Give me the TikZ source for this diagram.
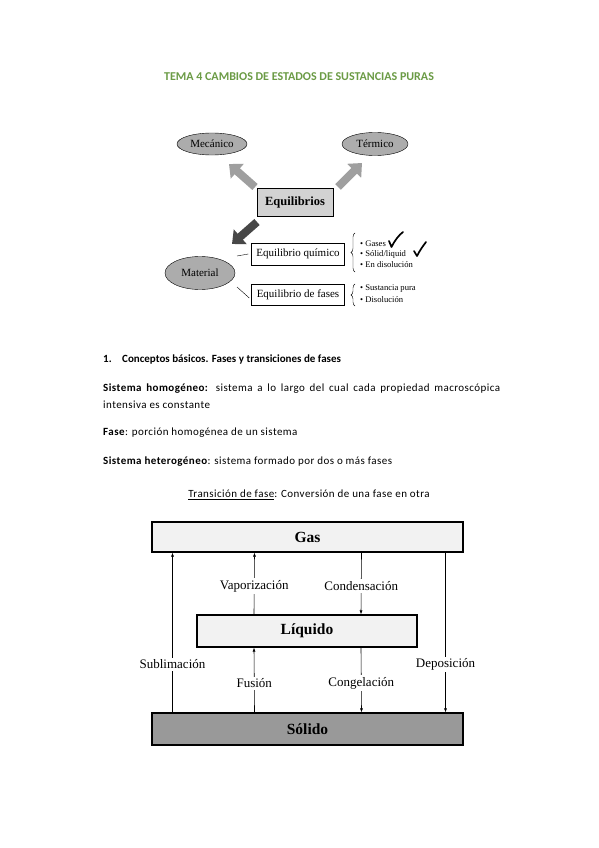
\documentclass[tikz,border=0pt]{standalone}
\usepackage{fontspec}
\setmainfont{Liberation Serif}
\newfontfamily\bodyfont{Carlito}
\newfontfamily\widebodyfont{Carlito}[LetterSpace=4]
\usetikzlibrary{arrows.meta}
\usetikzlibrary{positioning,shapes.geometric,decorations.pathreplacing}

\definecolor{titlegreen}{RGB}{107,155,69}

\begin{document}
\begin{tikzpicture}[x = 1pt, y = -1pt,
  oval/.style = {ellipse, draw, fill=gray!65, inner sep=0pt, font=\fontsize{11}{13}\selectfont},
  smallbox/.style = {draw, rectangle, minimum width=93pt, minimum height=22pt, inner sep=0pt, font=\fontsize{11}{13}\selectfont},
  phasebox/.style = {draw, line width=1.1pt, rectangle, inner sep=0pt, font=\fontsize{15.5}{18}\selectfont\bfseries},
  fatarrow/.style = {line width=8pt, -{Triangle[width=19pt,length=11pt]}},
  trans/.style = {line width=0.6pt, -{Latex[length=4pt,width=3pt]}},
  translabel/.style = {fill=white, inner sep=2pt, font=\fontsize{13}{15}\selectfont},
  item/.style = {anchor=west, inner sep=0pt, font=\fontsize{8.6}{10}\selectfont},
  tick/.style = {line width=1.7pt, line cap=round, line join=round},
  bodytext/.style = {inner sep=0pt, font=\widebodyfont\fontsize{11}{17}\selectfont}]

  \useasboundingbox[fill=white] (0,0) rectangle (599,848);

  % title
  \node[inner sep=0pt, text=titlegreen, font=\bodyfont\fontsize{12}{14}\selectfont\bfseries] (title) at (299,77)
    {TEMA 4 CAMBIOS DE ESTADOS DE SUSTANCIAS PURAS};

  % equilibrium diagram
  \node[oval, minimum width=70pt, minimum height=22pt] (meca) at (212,144) {Mecánico};
  \node[oval, minimum width=66pt, minimum height=23pt] (term) at (375,144) {Térmico};
  \node[draw, fill=gray!35, minimum width=76pt, minimum height=28pt, inner sep=0pt,
    font=\fontsize{12.5}{14}\selectfont\bfseries] (equil) at (295,202) {Equilibrios};
  \node[oval, minimum width=70pt, minimum height=33pt] (material) at (200,273) {Material};
  \node[smallbox] (quim) at (298,254) {Equilibrio químico};
  \node[smallbox, minimum height=21pt] (fases) at (298,295) {Equilibrio de fases};

  % block arrows
  \coordinate (mecaend) at (229,164);
  \coordinate (termend) at (362,163);
  \coordinate (matend) at (232,244);
  \draw[fatarrow, gray!75] (255,187) -- (mecaend);
  \draw[fatarrow, gray!75] (338,187) -- (termend);
  \draw[fatarrow, black!72] (257,222) -- (matend);

  % material links
  \coordinate (mq) at (237,256);
  \coordinate (mf) at (237,287);
  \draw (mq) -- ([xshift=-3pt]quim.west);
  \draw (mf) -- ([xshift=-2pt,yshift=-3pt]fases.west);

  % braces and items
  \draw[decorate, decoration={brace, amplitude=4pt}] (355,272) -- (355,233);
  \draw[decorate, decoration={brace, amplitude=4pt}] (355,306) -- (355,284);
  \node[item] (gases) at (360,244) {• Gases};
  \node[item] (solliq) at (360,254.5) {• Sólid/liquid};
  \node[item] (disol) at (360,265) {• En disolución};
  \node[item] (pura) at (360,289) {• Sustancia pura};
  \node[item] (disol2) at (360,299.5) {• Disolución};
  \draw[tick] (389,241) .. controls (390,244) .. (391.5,247) .. controls (395,240) and (399,235) .. (403,232);
  \draw[tick] (414,251) .. controls (415.5,253.5) .. (417,256) .. controls (420,250) and (423,246) .. (426,242);

  % text
  \node[inner sep=0pt, anchor=west, font=\bodyfont\fontsize{11}{17}\selectfont\bfseries] (heading) at (103,360)
    {\makebox[19pt][l]{1.}Conceptos básicos. Fases y transiciones de fases};
  \node[bodytext, anchor=north west, text width=397pt, align=justify] (homog) at (103,384)
    {\textbf{Sistema homogéneo:} sistema a lo largo del cual cada propiedad macroscópica\linebreak
     intensiva es constante};
  \node[bodytext, anchor=west] (fase) at (103,433) {\textbf{Fase}: porción homogénea de un sistema};
  \node[bodytext, anchor=west] (heterog) at (103,462)
    {\textbf{Sistema heterogéneo}: sistema formado por dos o más fases};
  \node[bodytext] (transtitle) at (309,495)
    {\underline{Transición de fase}: Conversión de una fase en otra};

  % phase diagram
  \node[phasebox, fill=gray!10, minimum width=311pt, minimum height=30pt] (gas) at (307.5,537) {Gas};
  \node[phasebox, fill=gray!10, minimum width=220pt, minimum height=32pt] (liquido) at (307,631) {Líquido};
  \node[phasebox, fill=black!40, minimum width=311pt, minimum height=32pt] (solido) at (307.5,729) {Sólido};

  \draw[trans] ([xshift=-135pt]solido.north) -- node[translabel, pos=0.30] {Sublimación} ([xshift=-135pt]gas.south);
  \draw[trans] ([xshift=-53pt]liquido.north) -- node[translabel, pos=0.46] {Vaporización} ([xshift=-53pt]gas.south);
  \draw[trans] ([xshift=54pt]gas.south) -- node[translabel, pos=0.54] {Condensación} ([xshift=54pt]liquido.north);
  \draw[trans] ([xshift=138pt]gas.south) -- node[translabel, pos=0.70] {Deposición} ([xshift=138pt]solido.north);
  \draw[trans] ([xshift=-53pt]solido.north) -- node[translabel, pos=0.45] {Fusión} ([xshift=-53pt]liquido.south);
  \draw[trans] ([xshift=54pt]liquido.south) -- node[translabel, pos=0.55] {Congelación} ([xshift=54pt]solido.north);
\end{tikzpicture}
\end{document}
